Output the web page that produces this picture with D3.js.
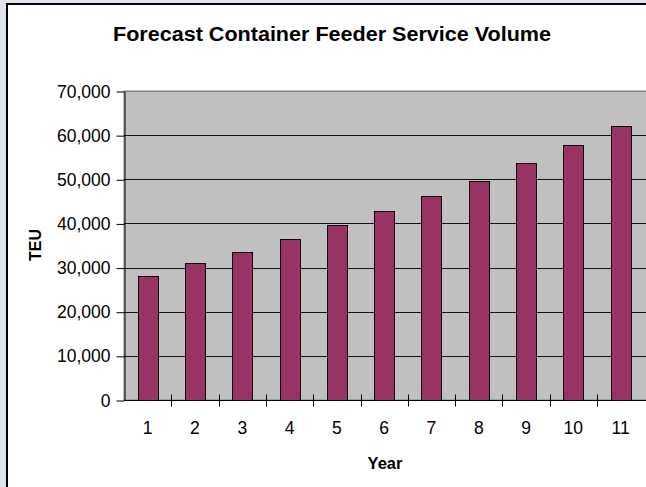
<!DOCTYPE html>
<html>
<head>
<meta charset="utf-8">
<script src="https://cdn.jsdelivr.net/npm/d3@7"></script>
<style>
  body { margin: 0; background: #dfe4ee; }
  svg { display: block; }
  text { font-family: "Liberation Sans", Arial, sans-serif; }
</style>
</head>
<body>
<script>
// data
var years = ["1", "2", "3", "4", "5", "6", "7", "8", "9", "10", "11"];
var teu = [28200, 31000, 33600, 36400, 39600, 42800, 46200, 49700, 53600, 57800, 62000];
var yTicks = [0, 10000, 20000, 30000, 40000, 50000, 60000, 70000];

var w = 646,
    h = 487;

var plot = { left: 124, top: 91, right: 644.3, bottom: 400 };

var svg = d3.select("body").append("svg")
    .attr("width", w)
    .attr("height", h);

// chart frame (cut off at right and bottom like the slide)
svg.append("rect")
    .attr("x", 7)
    .attr("y", 4)
    .attr("width", w + 10)
    .attr("height", h + 10)
    .attr("fill", "#fff")
    .attr("stroke", "#000")
    .attr("stroke-width", 2);

var x = d3.scaleBand()
    .domain(years)
    .range([plot.left, plot.right])
    .paddingInner(0.577)
    .paddingOuter(0.2885);

var y = d3.scaleLinear()
    .domain([0, 70000])
    .range([plot.bottom, plot.top]);

// plot area
svg.append("rect")
    .attr("x", plot.left)
    .attr("y", plot.top)
    .attr("width", w - plot.left + 5)
    .attr("height", plot.bottom - plot.top)
    .attr("fill", "#c0c0c0")
    .attr("stroke", "#808080");

// gridlines
svg.append("g")
    .attr("class", "grid")
    .selectAll("line")
    .data(yTicks.slice(1))
    .enter().append("line")
    .attr("x1", plot.left)
    .attr("x2", w)
    .attr("y1", function(d) { return Math.round(y(d)) + 0.5; })
    .attr("y2", function(d) { return Math.round(y(d)) + 0.5; })
    .attr("stroke", function(d) { return d === 70000 ? "#808080" : "#111"; })
    .attr("stroke-width", 1);

// bars
svg.append("g")
    .selectAll("rect")
    .data(teu)
    .enter().append("rect")
    .attr("x", function(d, i) { return Math.round(x(years[i])) + 0.5; })
    .attr("y", function(d) { return Math.round(y(d)) + 0.5; })
    .attr("width", Math.round(x.bandwidth()))
    .attr("height", function(d) { return Math.round(y(0)) - Math.round(y(d)); })
    .attr("fill", "#993366")
    .attr("stroke", "#000")
    .attr("stroke-width", 1);

// y axis
var yAxis = svg.append("g")
    .attr("class", "axis axis--y")
    .attr("transform", "translate(" + (plot.left + 0.5) + ",0.5)")
    .call(d3.axisLeft(y)
        .tickValues(yTicks)
        .tickFormat(d3.format(","))
        .tickSize(8)
        .tickSizeOuter(0)
        .tickPadding(6));
yAxis.select(".domain").attr("stroke", "#000");
yAxis.selectAll("text")
    .attr("font-size", 17.5)
    .attr("fill", "#000");

// x axis: labels centred on bars, ticks crossing between categories
var xAxis = svg.append("g")
    .attr("class", "axis axis--x")
    .attr("transform", "translate(0," + (Math.round(plot.bottom) + 0.5) + ")")
    .call(d3.axisBottom(x).tickSize(0).tickPadding(21.5));
xAxis.select(".domain").remove();
xAxis.selectAll("text")
    .attr("font-size", 17.5)
    .attr("fill", "#000");

xAxis.append("line")
    .attr("x1", plot.left)
    .attr("x2", w)
    .attr("stroke", "#000");

var half = x.step() * x.paddingInner() / 2;
xAxis.selectAll(".sep")
    .data(years.slice(1))
    .enter().append("line")
    .attr("class", "sep")
    .attr("x1", function(d) { return Math.round(x(d) - half) + 0.5; })
    .attr("x2", function(d) { return Math.round(x(d) - half) + 0.5; })
    .attr("y1", -6)
    .attr("y2", 6)
    .attr("stroke", "#000");

// titles
svg.append("text")
    .attr("x", 113)
    .attr("y", 41)
    .attr("font-size", 19.5)
    .attr("font-weight", "bold")
    .attr("textLength", 438)
    .attr("lengthAdjust", "spacingAndGlyphs")
    .text("Forecast Container Feeder Service Volume");

svg.append("text")
    .attr("x", 385)
    .attr("y", 469)
    .attr("text-anchor", "middle")
    .attr("font-size", 16.5)
    .attr("font-weight", "bold")
    .text("Year");

svg.append("text")
    .attr("transform", "translate(41,245) rotate(-90)")
    .attr("text-anchor", "middle")
    .attr("font-size", 16)
    .attr("font-weight", "bold")
    .text("TEU");
</script>
</body>
</html>
